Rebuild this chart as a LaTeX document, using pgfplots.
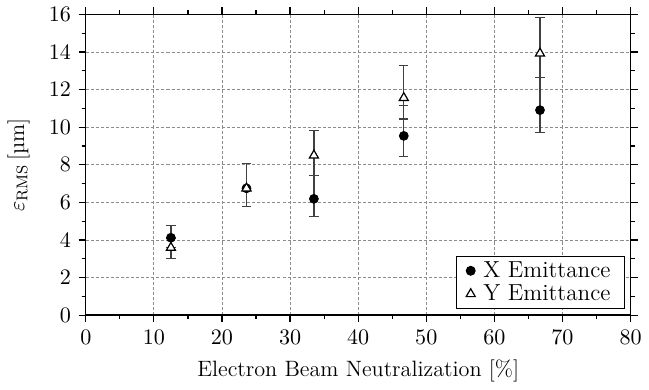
\documentclass[border=0pt]{standalone}
\usepackage{fontspec}
\usepackage{pgfplots}
\pgfplotsset{compat=1.18}
\begin{document}
\fontsize{11}{13}\selectfont
\begin{tikzpicture}
\begin{axis}[
  scale only axis,
  width=270pt, height=149pt,
  xmin=0, xmax=80, ymin=0, ymax=16,
  xtick={0,10,...,80}, ytick={0,2,...,16},
  minor x tick num=1, minor y tick num=1,
  tick align=outside,
  tick style={black, line width=0.6pt},
  major tick length=3.5pt, minor tick length=2pt,
  axis line style={line width=0.7pt},
  grid=major,
  major grid style={dash pattern=on 1.5pt off 1pt, gray!90, line width=0.4pt},
  tick label style={font=\fontsize{11}{13}\selectfont},
  label style={font=\fontsize{11}{13}\selectfont},
  ylabel style={xshift=0pt, yshift=2pt},
  xlabel={Electron Beam Neutralization [\%]},
  ylabel={$\varepsilon_{\mathrm{RMS}}$\,[µm]},
  legend style={at={(rel axis cs:0.99,0.02)}, anchor=south east, draw=black, line width=0.5pt, inner xsep=5pt, inner ysep=0.5pt, row sep=-2pt, column sep=2pt, font=\fontsize{11.5}{13}\selectfont},
  legend cell align=left,
]
\addplot+[only marks, mark=*, mark size=2.2pt, black, mark options={fill=black},
  error bars/.cd, y dir=both, y explicit,
  error bar style={black!75, line width=0.6pt},
  error mark options={rotate=90, mark size=2.3pt, black!75, line width=0.6pt}]
coordinates {
 (12.5,4.12) += (0,0.65) -= (0,0.5)
 (23.6,6.75) += (0,1.3) -= (0,0.98)
 (33.5,6.19) += (0,1.24) -= (0,0.96)
 (46.7,9.54) += (0,1.6) -= (0,1.08)
 (66.7,10.91) += (0,1.72) -= (0,1.17)
};
\addlegendentry{X Emittance}
\addplot+[only marks, mark=triangle*, mark size=2.6pt, black, mark options={fill=white, line width=0.6pt},
  error bars/.cd, y dir=both, y explicit,
  error bar style={black!75, line width=0.6pt},
  error mark options={rotate=90, mark size=2.3pt, black!75, line width=0.6pt}]
coordinates {
 (12.5,3.59) += (0,0.5) -= (0,0.57)
 (23.6,6.75) += (0,1.3) -= (0,0.98)
 (33.5,8.5) += (0,1.32) -= (0,1.07)
 (46.7,11.56) += (0,1.72) -= (0,1.12)
 (66.7,13.93) += (0,1.9) -= (0,1.3)
};
\addlegendentry{Y Emittance}
\end{axis}
\end{tikzpicture}
\end{document}
